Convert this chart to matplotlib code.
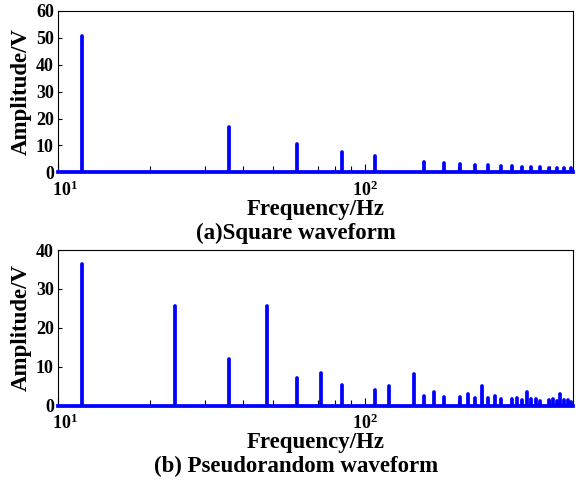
import numpy as np
import matplotlib
matplotlib.use('Agg')
import matplotlib.pyplot as plt
from matplotlib.transforms import ScaledTranslation

plt.rcParams['font.family'] = ['Liberation Serif', 'DejaVu Serif']
plt.rcParams['font.weight'] = 'bold'
plt.rcParams['mathtext.fontset'] = 'custom'
plt.rcParams['mathtext.rm'] = 'Liberation Serif:bold'
plt.rcParams['mathtext.it'] = 'Liberation Serif:bold'
plt.rcParams['mathtext.bf'] = 'Liberation Serif:bold'

# (a) square waveform, odd harmonics of 12 Hz
sq_freq = [12, 36, 60, 84, 108, 156, 180, 204, 228, 252, 276, 300, 324, 348,
           372, 396, 420, 444, 468]
sq_amp = [50.8, 17.0, 10.4, 7.6, 6.1, 3.9, 3.4, 3.1, 2.8, 2.6, 2.3, 2.2, 2.1,
          2.0, 1.8, 1.7, 1.7, 1.6, 1.6]

# (b) pseudorandom waveform
pr_freq = [12, 24, 36, 48, 60, 72, 84, 108, 120, 144, 156, 168, 180, 204, 216,
           228, 240, 252, 264, 276, 300, 312, 324, 336, 348, 360, 372, 396,
           408, 420, 432, 444, 456, 468]
pr_amp = [36.4, 25.6, 12.1, 25.6, 7.2, 8.4, 5.2, 4.0, 5.1, 8.2, 2.6, 3.4, 2.3,
          2.2, 2.9, 2.1, 5.1, 1.9, 2.4, 1.8, 1.7, 2.1, 1.5, 3.4, 1.8, 1.8, 1.3,
          1.4, 1.7, 1.2, 2.9, 1.4, 1.5, 1.0]

xlim = (10, 475)
blue = '#0000ff'

fig = plt.figure(figsize=(5.76, 4.83), dpi=100)
ax1 = fig.add_axes([0.1007, 0.6433, 0.894, 0.334])
ax2 = fig.add_axes([0.1007, 0.160, 0.894, 0.3224])


def draw(ax, freq, amp, ymax, yticks):
    lc = ax.vlines(freq, 0, amp, colors=blue, linewidth=2.7)
    lc.set_capstyle('round')
    ax.axhline(0, color=blue, linewidth=2.7, clip_on=False, zorder=3)
    ax.set_xscale('log')
    ax.set_xlim(*xlim)
    ax.set_ylim(0, ymax)
    ax.set_yticks(yticks)
    ax.set_xticks([10, 100])
    ax.set_xticklabels([r'$10^{1}$', r'$10^{2}$'])
    ax.tick_params(axis='both', which='both', direction='in', labelsize=13)
    ax.tick_params(axis='x', which='major', length=6, width=0.8, pad=6)
    ax.tick_params(axis='x', which='minor', length=4, width=0.8)
    ax.tick_params(axis='y', length=3, width=0.8, pad=3)
    for s in ax.spines.values():
        s.set_linewidth(0.8)
    # first decade label sits a little right of the spine, like the original
    first = ax.get_xticklabels()[0]
    first.set_transform(first.get_transform()
                        + ScaledTranslation(0.07, 0, fig.dpi_scale_trans))
    ax.set_xlabel('Frequency/Hz', fontsize=16.5, fontweight='bold', labelpad=-1)
    ax.set_ylabel('Amplitude/V', fontsize=16.5, fontweight='bold', labelpad=3)


draw(ax1, sq_freq, sq_amp, 60, [0, 10, 20, 30, 40, 50, 60])
draw(ax2, pr_freq, pr_amp, 40, [0, 10, 20, 30, 40])

fig.text(0.514, 0.516, '(a)Square waveform', ha='center', va='center',
         fontsize=16.5, fontweight='bold')
fig.text(0.514, 0.034, '(b) Pseudorandom waveform', ha='center', va='center',
         fontsize=16.5, fontweight='bold')

fig.savefig('out.png', dpi=100)
